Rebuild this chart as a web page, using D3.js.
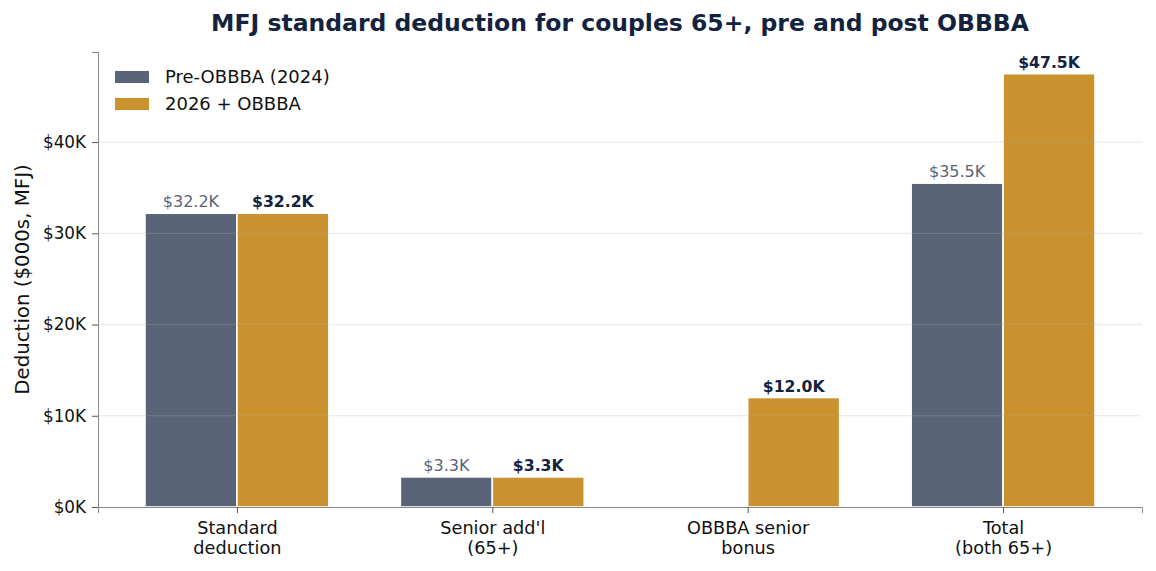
<!DOCTYPE html>
<html>
<head>
<meta charset="utf-8">
<script src="https://cdn.jsdelivr.net/npm/d3@7"></script>
<style>
  body { margin: 0; background: #fff; }
  svg, svg text { font-family: "DejaVu Sans", sans-serif; }
</style>
</head>
<body>
<div id="chart"></div>
<script>
// chart values, in $000s
const categories = [["Standard", "deduction"], ["Senior add'l", "(65+)"], ["OBBBA senior", "bonus"], ["Total", "(both 65+)"]];
const preValues = [32.2, 3.3, 0, 35.5];
const postValues = [32.2, 3.3, 12.0, 47.5];
const seriesNames = ["Pre-OBBBA (2024)", "2026 + OBBBA"];
const yTicks = [0, 10, 20, 30, 40];

const width = 1156, height = 571,
      margin = { top: 52, right: 14, bottom: 64, left: 98 };

const navy = "#5a6478", gold = "#c9922e", dark = "#13233f";

const svg = d3.select("#chart")
    .append("svg")
    .attr("width", width)
    .attr("height", height);

// matplotlib-like positions: group i at x=i, bars either side of the tick
let x = d3.scaleLinear()
    .domain([-0.544, 3.544])
    .range([margin.left, width - margin.right]);

let y = d3.scaleLinear()
    .domain([0, d3.max(postValues) * 1.05])
    .range([height - margin.bottom, margin.top]);

const bw = 0.36;

// bars
const series = [
    { name: seriesNames[0], values: preValues, color: navy, off: -bw },
    { name: seriesNames[1], values: postValues, color: gold, off: 0 }
];

series.forEach(s => {
    svg.append("g").selectAll("rect")
        .data(s.values)
        .join("rect")
        .attr("x", (d, i) => x(i + s.off))
        .attr("width", x(bw) - x(0))
        .attr("y", d => y(d))
        .attr("height", d => y(0) - y(d))
        .attr("fill", s.color)
        .attr("stroke", "#fff")
        .attr("stroke-width", 1.6);
});

// grid (drawn over bars, faint)
svg.append("g").selectAll("line")
    .data(yTicks.slice(1))
    .join("line")
    .attr("x1", margin.left)
    .attr("x2", width - margin.right)
    .attr("y1", d => y(d))
    .attr("y2", d => y(d))
    .attr("stroke", "#b0b0b0")
    .attr("stroke-opacity", 0.3)
    .attr("stroke-width", 1);

// value labels
svg.append("g").selectAll("text")
    .data(preValues.map((v, i) => ({ v, i })).filter(d => d.v > 0))
    .join("text")
    .attr("x", d => x(d.i - bw / 2))
    .attr("y", d => y(d.v) - 6)
    .attr("text-anchor", "middle")
    .attr("font-size", 16)
    .attr("fill", navy)
    .text(d => "$" + d.v.toFixed(1) + "K");

svg.append("g").selectAll("text")
    .data(postValues.map((v, i) => ({ v, i })).filter(d => d.v > 0))
    .join("text")
    .attr("x", d => x(d.i + bw / 2))
    .attr("y", d => y(d.v) - 6)
    .attr("text-anchor", "middle")
    .attr("font-size", 15.7)
    .attr("font-weight", "bold")
    .attr("fill", dark)
    .text(d => "$" + d.v.toFixed(1) + "K");

// axes
const yAxis = svg.append("g")
    .attr("transform", `translate(${margin.left},0)`)
    .call(d3.axisLeft(y).tickValues(yTicks).tickFormat(d => "$" + d + "K").tickSize(6).tickPadding(6));

const xAxis = svg.append("g")
    .attr("transform", `translate(0,${height - margin.bottom})`)
    .call(d3.axisBottom(x).tickValues([0, 1, 2, 3]).tickFormat("").tickSize(6));

[yAxis, xAxis].forEach(a => {
    a.attr("font-family", "DejaVu Sans").attr("font-size", 16.8);
    a.select(".domain").attr("stroke", "#888");
    a.selectAll(".tick line").attr("stroke", "#555");
    a.selectAll("text").attr("fill", "#111");
});

// two-line category labels
xAxis.selectAll(".tick").each(function(d) {
    const t = d3.select(this).append("text")
        .attr("fill", "#111")
        .attr("font-size", 17.7)
        .attr("text-anchor", "middle");
    categories[d].forEach((line, k) => {
        t.append("tspan").attr("x", 0).attr("y", 27 + k * 19.5).text(line);
    });
});

// y label
svg.append("text")
    .attr("transform", `translate(29,${(margin.top + height - margin.bottom) / 2}) rotate(-90)`)
    .attr("text-anchor", "middle")
    .attr("font-size", 19.8)
    .attr("fill", "#111")
    .text("Deduction ($000s, MFJ)");

// title
svg.append("text")
    .attr("x", (margin.left + width - margin.right) / 2)
    .attr("y", 31)
    .attr("text-anchor", "middle")
    .attr("font-size", 23.5)
    .attr("font-weight", "bold")
    .attr("fill", dark)
    .text("MFJ standard deduction for couples 65+, pre and post OBBBA");

// legend
const legend = svg.append("g").attr("transform", "translate(115,71)");
series.forEach((s, i) => {
    legend.append("rect")
        .attr("x", 0).attr("y", i * 27)
        .attr("width", 34).attr("height", 12)
        .attr("fill", s.color);
    legend.append("text")
        .attr("x", 50).attr("y", i * 27 + 12)
        .attr("font-size", 18)
        .attr("fill", "#111")
        .text(s.name);
});
</script>
</body>
</html>
